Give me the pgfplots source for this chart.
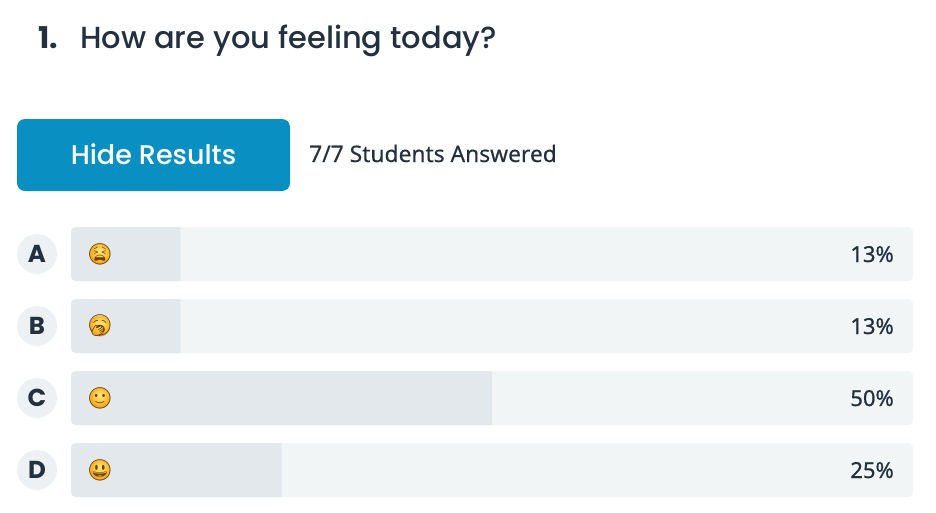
\documentclass[border=0pt]{standalone}
\usepackage{fontspec}
\usepackage{pgfplots}
\pgfplotsset{compat=1.18}
\setmainfont{Poppins}
\newfontfamily\medf{Poppins Medium}
\newfontfamily\bodyf{Noto Sans}[FakeBold=0.3]
\newfontfamily\pctf{Noto Sans}[FakeBold=0.8]
\newfontfamily\emojif{Noto Emoji}
\definecolor{ink}{HTML}{22303F}
\definecolor{trk}{HTML}{F2F5F6}
\definecolor{val}{HTML}{E2E8EB}
\definecolor{btn}{HTML}{0A8FC2}
\definecolor{badge}{HTML}{EEF1F4}
\definecolor{emo}{HTML}{6B3F10}
\definecolor{emoA}{HTML}{FFE680}
\definecolor{emoB}{HTML}{FBC53A}
\definecolor{emoC}{HTML}{F09A1E}
\pgfdeclareradialshading{emojiball}{\pgfpoint{0pt}{8pt}}{%
  color(0pt)=(emoA);
  color(16pt)=(emoB);
  color(28pt)=(emoC);
  color(50pt)=(emoC)}
\begin{document}
\begin{tikzpicture}
\useasboundingbox (0pt,0pt) rectangle (936pt,-512pt);
% chart
\begin{axis}[
  at={(71pt,-227pt)},anchor=north west,
  scale only axis,width=842pt,height=270pt,
  hide axis,
  y dir=reverse,
  xmin=0,xmax=100,ymin=-0.375,ymax=3.375,
  xbar,bar width=54pt,bar shift=0pt,
]
\addplot[draw=none,fill=trk] coordinates {(100,0) (100,1) (100,2) (100,3)};
\addplot[draw=none,fill=val] coordinates {(13,0) (13,1) (50,2) (25,3)};
\end{axis}
\begin{scope}[x=1pt,y=-1pt]
% header
\node[anchor=base west,inner sep=0,text=ink,font=\fontsize{30}{30}\selectfont\bfseries] at (38,48) {1.};
\node[anchor=base west,inner sep=0,text=ink,font=\fontsize{30.5}{30}\selectfont\medf] at (80,48) {How are you feeling today?};
\fill[btn,rounded corners=8] (17,119) rectangle (290,191);
\node[anchor=base,inner sep=0,text=white,font=\fontsize{27}{26}\selectfont\medf] at (153.5,164) {Hide Results};
\node[anchor=base west,inner sep=0,text=ink,font=\fontsize{22.8}{22}\selectfont\bodyf] at (309,162) {7/7 Students Answered};
% corner masks, badges, emoji, labels
\foreach \yy/\L/\P/\E in {254/A/13/\char"1F62B,326/B/13/\char"1F971,398/C/50/\char"1F642,470/D/25/\char"1F603}{
  \fill[white,even odd rule] (71,\yy-27) rectangle (913,\yy+27)
    [rounded corners=4] (71,\yy-27) rectangle (913,\yy+27);
  \fill[badge] (37,\yy) circle[radius=20];
  \node[text=ink,inner sep=0,font=\fontsize{24.5}{24}\selectfont\bfseries] at (37,\yy) {\L};
  \shade[shading=emojiball] (100,\yy) circle[radius=10.5];
  \node[text=emo,inner sep=0,font=\fontsize{21}{21}\selectfont\emojif] at (100,\yy) {\E};
  \node[anchor=base east,inner sep=0,text=ink,font=\fontsize{22}{22}\selectfont\pctf] at (894,\yy+8) {\P\%};
}
\end{scope}
\end{tikzpicture}
\end{document}
